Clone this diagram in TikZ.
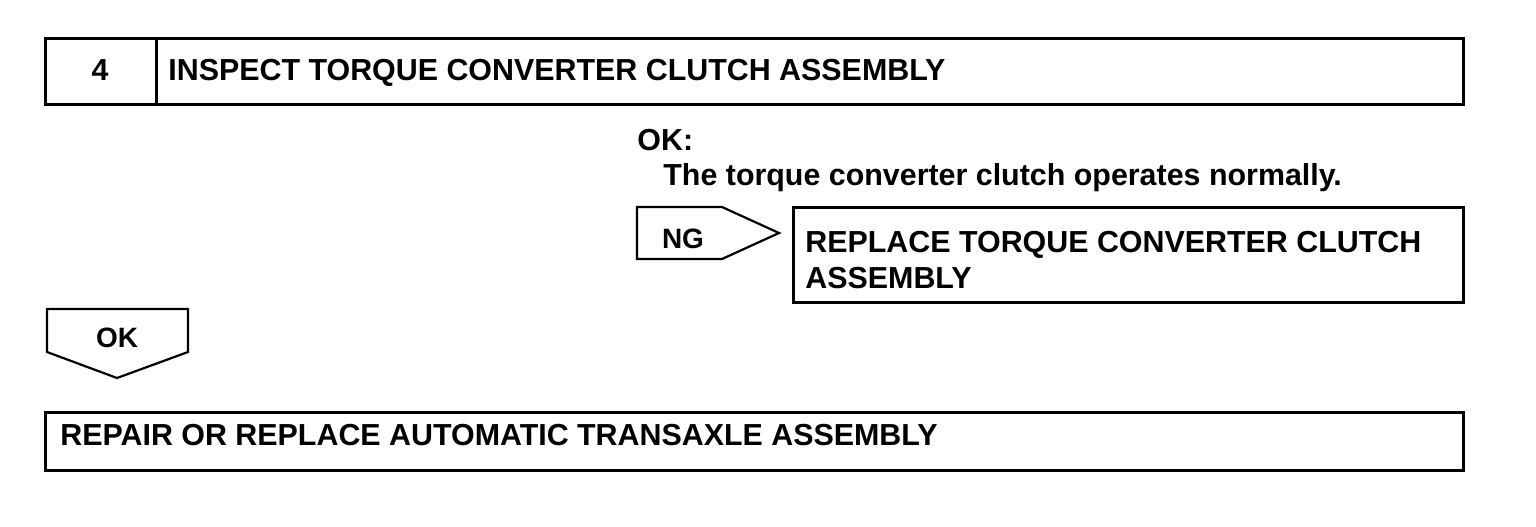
\documentclass[tikz,border=0pt]{standalone}
\usepackage{fontspec}
\setmainfont{Liberation Sans}
\tikzset{
  frame/.style={line width=1.5pt},
  flag/.style={line width=1.1pt, line join=miter},
  txt/.style={anchor=base west, inner sep=0pt, font=\fontsize{15.2pt}{18pt}\selectfont\bfseries},
  flagtxt/.style={anchor=base, inner sep=0pt, font=\fontsize{14pt}{17pt}\selectfont\bfseries},
}
\begin{document}
\begin{tikzpicture}[x=0.5pt,y=-0.5pt]
\useasboundingbox (0,0) rectangle (1536,526);

% step header
\draw[frame] (45,38) rectangle (1463,104);
\draw[frame] (156,38) -- (156,104);
\node[txt,anchor=base] (num) at (100,80) {4};
\node[txt] (title) at (168,80) {INSPECT TORQUE CONVERTER CLUTCH ASSEMBLY};

% check result
\node[txt] (okhead) at (637,150) {OK:};
\node[txt] (oktext) at (663,185) {The torque converter clutch operates normally.};

% NG branch
\draw[flag] (637,207) -- (722,207) -- (779,233) -- (722,259) -- (637,259) -- cycle;
\node[flagtxt] (ng) at (683,248) {NG};
\draw[frame] (793,207) rectangle (1463,302);
\node[txt,align=left] (replace) at (805,288) {REPLACE TORQUE CONVERTER CLUTCH\\ASSEMBLY};

% OK branch
\draw[flag] (47,309) -- (188,309) -- (188,352) -- (117,378) -- (47,352) -- cycle;
\node[flagtxt] (ok) at (117,347) {OK};
\draw[frame] (45,412) rectangle (1463,470);
\node[txt] (repair) at (60,445) {REPAIR OR REPLACE AUTOMATIC TRANSAXLE ASSEMBLY};
\end{tikzpicture}
\end{document}
